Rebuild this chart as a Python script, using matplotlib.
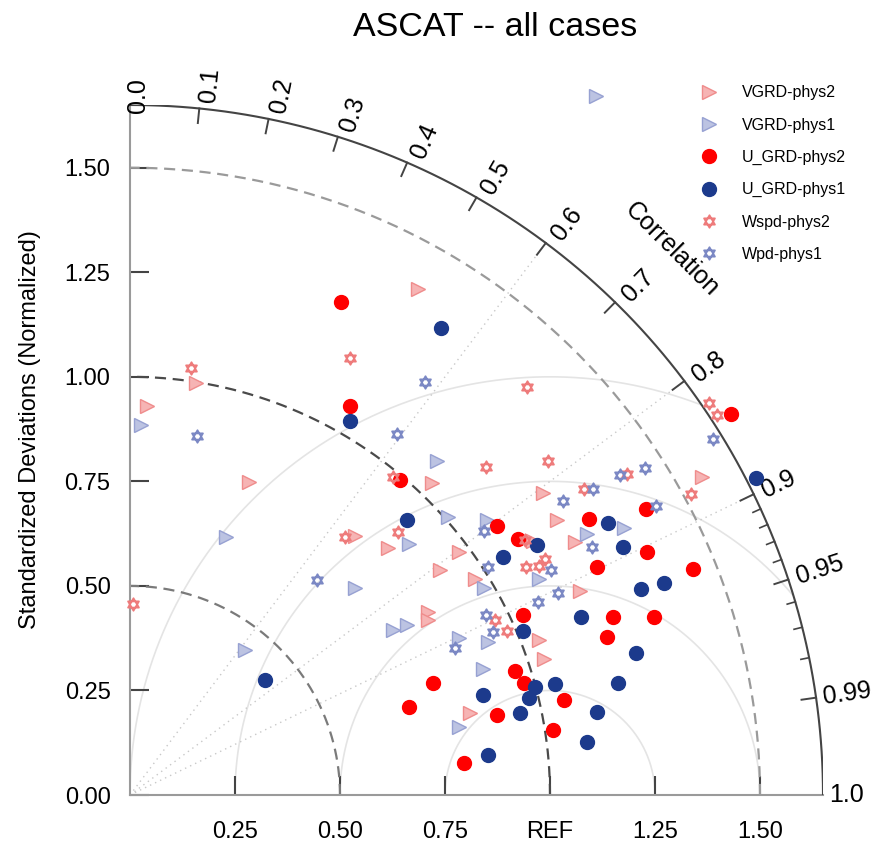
import numpy as np
import matplotlib
matplotlib.use("Agg")
import matplotlib.pyplot as plt
from matplotlib.path import Path

plt.rcParams['font.family'] = ['Liberation Sans', 'DejaVu Sans']

# points, as (x, y) components of the normalized std dev
vgrd_p2_x = [0.040, 0.157, 0.283, 0.686, 0.536, 0.614, 0.719, 0.783, 0.738, 0.821, 0.983,
             1.017, 0.710, 0.710, 0.960, 1.060, 1.362, 1.071, 0.974, 0.986, 0.810]
vgrd_p2_y = [0.931, 0.986, 0.749, 1.211, 0.620, 0.591, 0.746, 0.581, 0.538, 0.517, 0.722,
             0.658, 0.438, 0.419, 0.608, 0.605, 0.761, 0.488, 0.371, 0.325, 0.196]

vgrd_p1_x = [1.110, 0.026, 0.229, 0.274, 0.536, 0.731, 0.757, 0.664, 0.850, 0.843, 0.974,
             1.088, 1.176, 0.626, 0.660, 0.783, 0.852, 0.840, 0.783]
vgrd_p1_y = [1.672, 0.885, 0.617, 0.347, 0.495, 0.799, 0.665, 0.600, 0.658, 0.495, 0.517,
             0.624, 0.639, 0.395, 0.407, 0.376, 0.366, 0.301, 0.163]

ugrd_p2_x = [0.502, 0.524, 0.643, 0.874, 0.924, 0.936, 1.229, 1.093, 1.231, 1.112, 1.340,
             1.150, 1.248, 1.136, 1.033, 0.917, 0.938, 0.721, 0.664, 0.874, 1.007, 0.795, 1.431]
ugrd_p2_y = [1.179, 0.931, 0.754, 0.644, 0.612, 0.430, 0.684, 0.660, 0.581, 0.545, 0.541,
             0.426, 0.426, 0.378, 0.227, 0.297, 0.268, 0.268, 0.211, 0.191, 0.155, 0.077, 0.911]

ugrd_p1_x = [0.740, 0.524, 0.321, 1.490, 0.659, 0.969, 0.888, 1.138, 1.174, 1.217, 1.271,
             1.074, 1.205, 1.162, 1.112, 1.088, 0.936, 0.964, 0.950, 1.012, 0.929, 0.840, 0.852]
ugrd_p1_y = [1.117, 0.895, 0.275, 0.758, 0.658, 0.598, 0.569, 0.651, 0.593, 0.493, 0.507,
             0.426, 0.340, 0.268, 0.199, 0.127, 0.392, 0.258, 0.232, 0.266, 0.196, 0.239, 0.096]

wspd_p2_x = [0.007, 0.145, 0.524, 0.945, 0.512, 0.626, 0.848, 0.995, 0.638, 0.943, 0.974,
             0.988, 0.940, 1.183, 1.081, 1.336, 0.898, 0.869, 1.379, 1.398]
wspd_p2_y = [0.457, 1.021, 1.045, 0.976, 0.617, 0.761, 0.785, 0.799, 0.629, 0.545, 0.548,
             0.565, 0.610, 0.768, 0.732, 0.720, 0.392, 0.419, 0.938, 0.909]

wpd_p1_x = [0.160, 0.702, 0.636, 0.445, 0.843, 0.852, 1.002, 1.019, 0.971, 0.848, 1.167,
            1.226, 1.102, 1.031, 1.252, 1.100, 0.864, 0.774, 1.388]
wpd_p1_y = [0.859, 0.988, 0.864, 0.514, 0.632, 0.545, 0.538, 0.483, 0.462, 0.431, 0.766,
            0.782, 0.732, 0.703, 0.691, 0.593, 0.390, 0.352, 0.852]

corr_major = [0.0, 0.1, 0.2, 0.3, 0.4, 0.5, 0.6, 0.7, 0.8, 0.9, 0.95, 0.99, 1.0]
corr_minor = [0.91, 0.92, 0.93, 0.94, 0.96, 0.97, 0.98]
std_ticks = [0.25, 0.5, 0.75, 1.0, 1.25, 1.5]
std_labels = ['0.25', '0.50', '0.75', 'REF', '1.25', '1.50']
y_ticks = [0.0, 0.25, 0.5, 0.75, 1.0, 1.25, 1.5]
rms_radii = [0.25, 0.5, 0.75, 1.0]
corr_rays = [0.6, 0.8, 0.9]
RMAX = 1.65

# star of david marker
ang1 = np.radians([90, 210, 330])
ang2 = np.radians([270, 30, 150])
verts = []
for a in (ang1, ang2):
    verts += [(np.cos(t), np.sin(t)) for t in a] + [(0, 0)]
codes = [Path.MOVETO, Path.LINETO, Path.LINETO, Path.CLOSEPOLY] * 2
hexagram = Path(verts, codes)

fig = plt.figure(figsize=(8.81, 8.46), dpi=100)
ax = fig.add_axes([130 / 881, 51 / 846, 693 / 881, 690 / 846])
ax.set_xlim(0, RMAX)
ax.set_ylim(0, RMAX)

th = np.linspace(0, np.pi / 2, 300)

# rms circles around REF
for r in rms_radii:
    t = np.linspace(0, np.pi, 400)
    cx = 1.0 + r * np.cos(t)
    cy = r * np.sin(t)
    m = np.hypot(cx, cy) <= RMAX
    cx = np.where(m, cx, np.nan)
    ax.plot(cx, cy, color='#e4e4e4', lw=1.2, zorder=1)

# rays
for c in corr_rays:
    a = np.arccos(c)
    ax.plot([0, RMAX * np.cos(a)], [0, RMAX * np.sin(a)], ls=(0, (1, 3)),
            color='#c8c8c8', lw=1.0, zorder=1)

# std arcs
for r, col in [(0.5, '#7a7a7a'), (1.0, '#4a4a4a'), (1.5, '#9a9a9a')]:
    ax.plot(r * np.cos(th), r * np.sin(th), color=col, lw=1.6,
            dashes=(5, 3), zorder=2)

# outer arc and ticks
ax.plot(RMAX * np.cos(th), RMAX * np.sin(th), color='#444444', lw=1.5, zorder=3)
for c in corr_major:
    a = np.arccos(c)
    if 0 < c < 1:
        ax.plot([RMAX * np.cos(a), (RMAX - 0.035) * np.cos(a)],
                [RMAX * np.sin(a), (RMAX - 0.035) * np.sin(a)], color='#444444', lw=1.4)
    rl = RMAX + 0.015
    dy = -0.035 if c == 0.0 else 0.0
    ax.text(rl * np.cos(a) + 0.02 * np.sin(a), rl * np.sin(a) + dy,
            f'{c:g}' if c not in (0.0, 1.0) else f'{c:.1f}',
            rotation=np.degrees(a), rotation_mode='anchor', ha='left', va='center',
            fontsize=18, clip_on=False)
for c in corr_minor:
    a = np.arccos(c)
    ax.plot([RMAX * np.cos(a), (RMAX - 0.02) * np.cos(a)],
            [RMAX * np.sin(a), (RMAX - 0.02) * np.sin(a)], color='#444444', lw=1.2)

ax.text(1.29, 1.305, 'Correlation', rotation=-45, ha='center', va='center', fontsize=18)

# data
ms_kw = dict(ls='none', clip_on=False, zorder=5)
ax.plot(vgrd_p2_x, vgrd_p2_y, marker='>', ms=10, mfc='#f6b4b4', mec='#ef8c8c', mew=1.0,
        label='VGRD-phys2', **ms_kw)
ax.plot(vgrd_p1_x, vgrd_p1_y, marker='>', ms=10, mfc='#bcc3e2', mec='#97a1d2', mew=1.0,
        label='VGRD-phys1', **ms_kw)
ax.plot(ugrd_p2_x, ugrd_p2_y, marker='o', ms=10, mfc='#ff0000', mec='#ff0000',
        label='U_GRD-phys2', **ms_kw)
ax.plot(ugrd_p1_x, ugrd_p1_y, marker='o', ms=10, mfc='#1c3a8c', mec='#1c3a8c',
        label='U_GRD-phys1', **ms_kw)
ax.plot(wspd_p2_x, wspd_p2_y, marker=hexagram, ms=9, mfc='none', mec='#ee7b7b', mew=1.3,
        label='Wspd-phys2', **ms_kw)
ax.plot(wpd_p1_x, wpd_p1_y, marker=hexagram, ms=9, mfc='none', mec='#7b88c4', mew=1.3,
        label='Wpd-phys1', **ms_kw)

ax.legend(loc='upper left', bbox_to_anchor=(695 / 881, 1 - 79 / 846),
          bbox_transform=fig.transFigure, frameon=False, fontsize=11.5,
          labelspacing=1.08, handlelength=1.0, handletextpad=1.55, borderaxespad=0,
          numpoints=1)

# axes
for s in ('top', 'right'):
    ax.spines[s].set_visible(False)
for s in ('left', 'bottom'):
    ax.spines[s].set_color('#9a9a9a')
    ax.spines[s].set_linewidth(1.5)
ax.set_xticks(std_ticks)
ax.set_xticklabels(std_labels)
ax.set_yticks(y_ticks)
ax.set_yticklabels([f'{v:.2f}' for v in y_ticks])
ax.tick_params(direction='in', length=14, width=1.5, color='#444444', labelsize=17)
ax.tick_params(axis='x', pad=19)
ax.tick_params(axis='y', pad=14)

fig.text(30 / 881, 1 - 430 / 846, 'Standardized Deviations (Normalized)', rotation=90,
         ha='center', va='center', fontsize=17)
fig.text(495 / 881, 1 - 27 / 846, 'ASCAT -- all cases', ha='center', va='center',
         fontsize=24.5)

fig.savefig('out.png', dpi=100)
